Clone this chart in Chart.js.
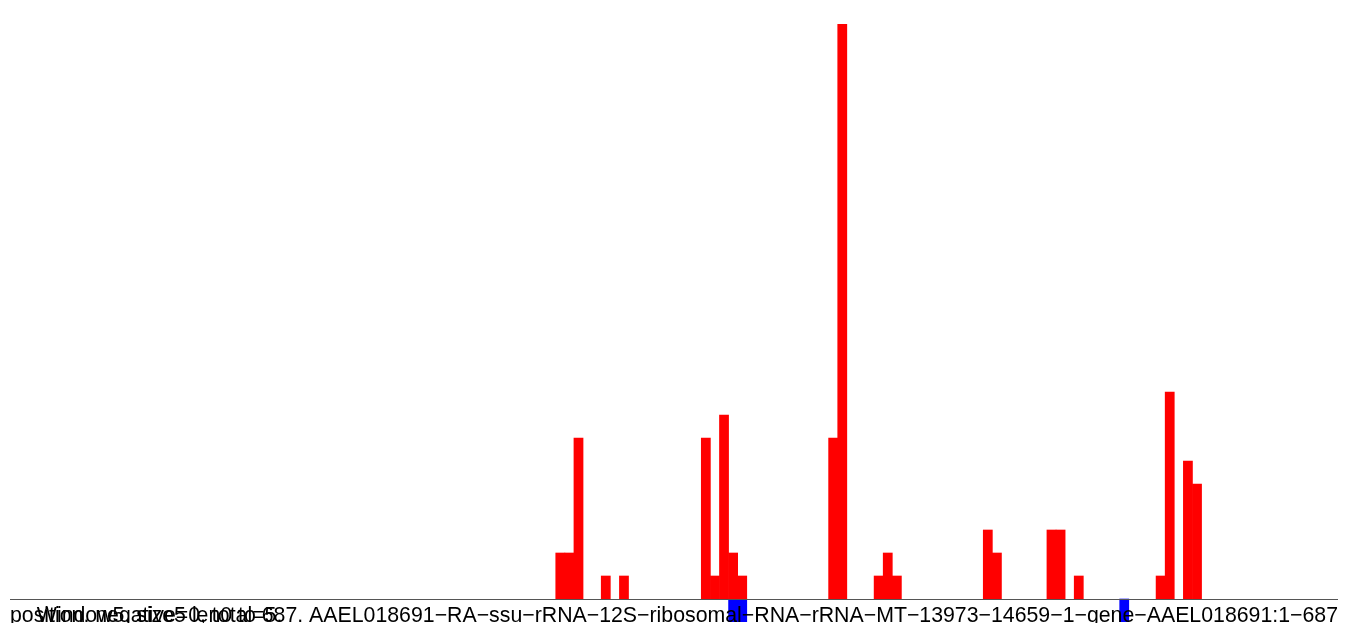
<!DOCTYPE html>
<html>
<head>
<meta charset="utf-8">
<script src="https://cdn.jsdelivr.net/npm/chart.js@4/dist/chart.umd.min.js"></script>
<style>
  html, body { margin: 0; padding: 0; background: #fff; overflow: hidden; }
</style>
</head>
<body>
<canvas id="readChart" width="1350" height="623"></canvas>
<script>
// windows along the sequence (window size 5)
const windowCount = 146;
const windowLabels = Array.from({ length: windowCount }, (_, i) => String(i * 5 + 1));

// reads on the plus strand: window index -> count
const plusIdx    = [60, 61, 62, 65, 67, 76, 77, 78, 79, 80, 90, 91, 95, 96, 97, 107, 108, 114, 115, 117, 126, 127, 129, 130];
const plusCounts = [ 2,  2,  7,  1,  1,  7,  1,  8,  2,  1,  7, 25,  1,  2,  1,   3,   2,   3,   3,   1,   1,   9,   6,   5];

// reads on the minus strand
const minusIdx    = [79, 80, 122];
const minusCounts = [-1, -1, -1];

const sideLabel = 'position. negative=0, total=5.';
const axisLabel = 'Window5. size5 len0 to 687. AAEL018691\u2212RA\u2212ssu\u2212rRNA\u221212S\u2212ribosomal\u2212RNA\u2212rRNA\u2212MT\u221213973\u221214659\u22121\u2212gene\u2212AAEL018691:1\u2212687';

function spread(idx, vals) {
    const out = new Array(windowCount).fill(null);
    idx.forEach((k, j) => { out[k] = vals[j]; });
    return out;
}

const baseLine = {
    id: 'baseLine',
    afterDatasetsDraw(chart) {
        const { ctx, chartArea, scales } = chart;
        const y0 = Math.round(scales.y.getPixelForValue(0)) + 0.5;
        ctx.save();
        ctx.strokeStyle = '#555';
        ctx.lineWidth = 1;
        ctx.beginPath();
        ctx.moveTo(chartArea.left, y0);
        ctx.lineTo(chartArea.right, y0);
        ctx.stroke();

        ctx.fillStyle = '#000';
        ctx.font = '21.3px "Liberation Sans", Arial, sans-serif';
        ctx.textBaseline = 'alphabetic';
        ctx.textAlign = 'left';
        ctx.fillText(sideLabel, chartArea.left, 622);
        ctx.textAlign = 'right';
        ctx.fillText(axisLabel, chartArea.right, 622);
        ctx.restore();
    }
};

const ctx = document.getElementById('readChart').getContext('2d');
const readChart = new Chart(ctx, {
    type: 'bar',
    data: {
        labels: windowLabels,
        datasets: [
            {
                label: 'plus',
                data: spread(plusIdx, plusCounts),
                backgroundColor: '#ff0000',
                borderWidth: 0,
                barPercentage: 1,
                categoryPercentage: 1
            },
            {
                label: 'minus',
                data: spread(minusIdx, minusCounts),
                backgroundColor: '#0000ff',
                borderWidth: 0,
                barPercentage: 1,
                categoryPercentage: 1
            }
        ]
    },
    options: {
        responsive: false,
        animation: false,
        layout: {
            padding: { left: 10, right: 12, top: 24, bottom: 1 }
        },
        plugins: {
            legend: { display: false },
            tooltip: { enabled: false }
        },
        scales: {
            x: { display: false, stacked: true },
            y: { display: false, min: -1, max: 25 }
        }
    },
    plugins: [baseLine]
});
</script>
</body>
</html>
